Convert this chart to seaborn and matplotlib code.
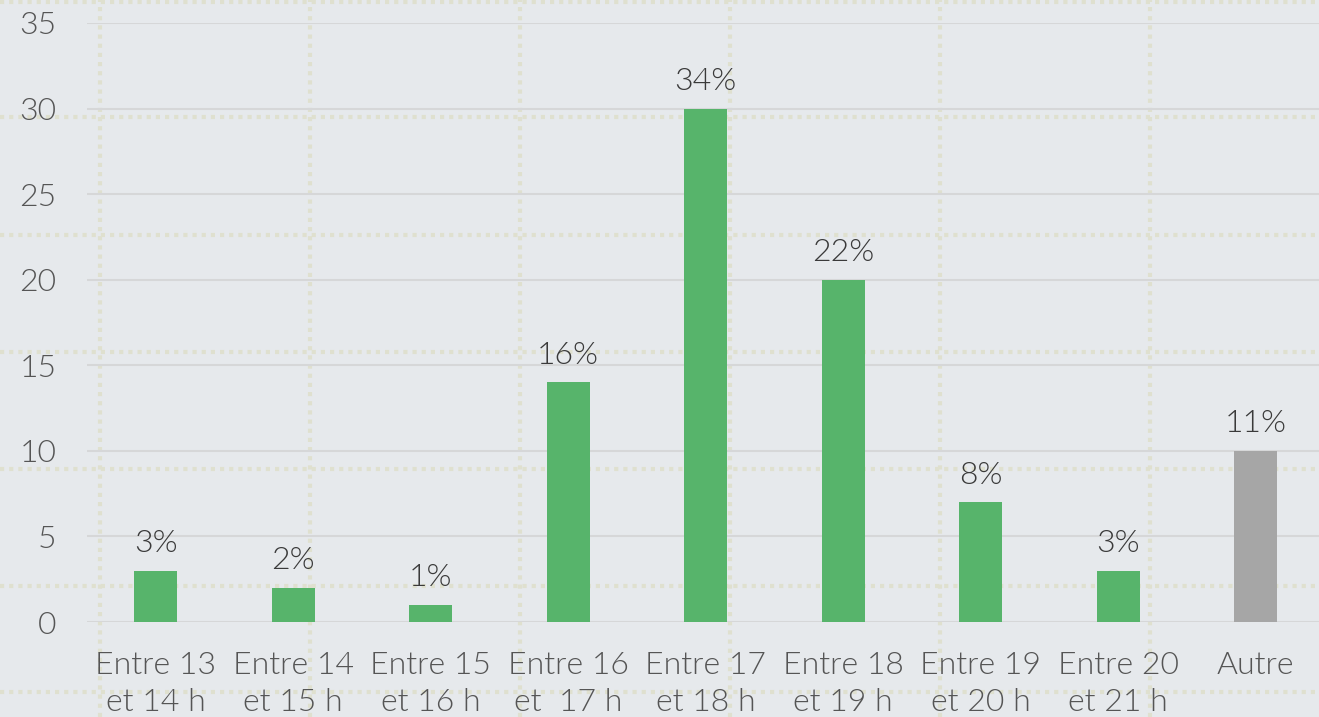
import numpy as np
import pandas as pd
import seaborn as sns
import matplotlib.pyplot as plt
from matplotlib.lines import Line2D

# Données
categories = ["Entre 13\net 14 h", "Entre 14\net 15 h", "Entre 15\net 16 h",
              "Entre 16\net  17 h", "Entre 17\net 18 h", "Entre 18\net 19 h",
              "Entre 19\net 20 h", "Entre 20\net 21 h", "Autre"]
valeurs = [3, 2, 1, 14, 30, 20, 7, 3, 10]
pourcentages = ["3%", "2%", "1%", "16%", "34%", "22%", "8%", "3%", "11%"]
couleurs = ["#57b46b"] * 8 + ["#a6a6a6"]
yticks = [0, 5, 10, 15, 20, 25, 30, 35]

fond = "#e6e9ec"
poids = 300
sns.set_theme(style="white")
plt.rcParams['font.family'] = ['Lato', 'DejaVu Sans']

df = pd.DataFrame({"cat": categories, "val": valeurs})

fig = plt.figure(figsize=(13.19, 7.17), dpi=100, facecolor=fond)
ax = fig.add_axes([87 / 1319, 95 / 717, 1237.5 / 1319, 599 / 717])
ax.set_facecolor("none")
ax.set_zorder(1)

# Quadrillage pointillé du fond (décor de la page)
pointille = "#dfe0cf"
for x in [100, 310, 520, 730, 940, 1150]:
    fig.add_artist(Line2D([x / 1319, x / 1319], [0, 1], color=pointille, lw=3,
                          ls=(0, (1, 1.2)), zorder=0.5))
for y in [2, 117, 235, 352, 469, 586, 692]:
    fig.add_artist(Line2D([0, 1], [1 - y / 717, 1 - y / 717], color=pointille, lw=3,
                          ls=(0, (1, 1.2)), zorder=0.5))

sns.barplot(data=df, x="cat", y="val", hue="cat", palette=couleurs, legend=False,
            width=0.313, saturation=1, linewidth=0, ax=ax, zorder=3)

for cont, lab in zip(ax.containers, pourcentages):
    ax.bar_label(cont, labels=[lab], padding=9, fontsize=23, color="#3a3a3a",
                 fontweight=poids)

ax.set_ylim(0, 35)
ax.set_xlim(-0.5, 8.5)
ax.set_yticks(yticks)
ax.yaxis.grid(True, color="#d6d7d8", lw=1.5, zorder=0)
ax.set_axisbelow(True)
for s in ax.spines.values():
    s.set_visible(False)
ax.tick_params(axis="y", length=0, pad=22, labelsize=23, labelcolor="#555555")
ax.tick_params(axis="x", length=0, pad=21, labelsize=23, labelcolor="#555555")
for t in ax.get_xticklabels() + ax.get_yticklabels():
    t.set_fontweight(poids)
for t in ax.get_xticklabels():
    t.set_linespacing(1.35)
ax.set_xlabel("")
ax.set_ylabel("")

fig.savefig("out.png", dpi=100, facecolor=fond)
